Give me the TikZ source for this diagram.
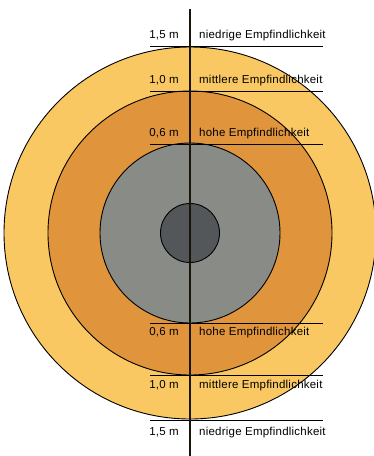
\documentclass[tikz,border=0pt]{standalone}
\usepackage{fontspec}
\setmainfont[LetterSpace=2]{Liberation Sans}
\usetikzlibrary{positioning}
\definecolor{ringLow}{RGB}{250,200,98}
\definecolor{ringMid}{RGB}{224,148,60}
\definecolor{ringHigh}{RGB}{137,139,134}
\definecolor{ringCore}{RGB}{84,87,90}
\definecolor{axisInk}{RGB}{26,21,10}

\begin{document}
\begin{tikzpicture}[x=1pt,y=-1pt]
\useasboundingbox (0,0) rectangle (374,456);
\tikzstyle{ring}=[circle, draw=black, line width=0.9pt, inner sep=0pt]
\tikzstyle{dist}=[anchor=base east, inner sep=0pt, font=\fontsize{11.5}{13}\selectfont]
\tikzstyle{sens}=[anchor=base west, inner sep=0pt, font=\fontsize{11.5}{13}\selectfont]
\tikzstyle{level}=[line width=1pt, black]
\node[ring, fill=ringLow, minimum size=372pt] (R3) at (190,233) {};
\node[ring, fill=ringMid, minimum size=284pt] (R2) at (190,233) {};
\node[ring, fill=ringHigh, minimum size=180pt] (R1) at (190,233) {};
\node[ring, fill=ringCore, minimum size=59pt] (R0) at (190,233) {};
% Abstandslinien mit Beschriftung
\foreach \i/\yy/\ty/\dst/\lbl in {
  1/46/38.3/{1,5 m}/{niedrige Empfindlichkeit},
  2/91/83.3/{1,0 m}/{mittlere Empfindlichkeit},
  3/144/136.7/{0,6 m}/{hohe Empfindlichkeit},
  4/323.5/335.7/{0,6 m}/{hohe Empfindlichkeit},
  5/375/388.3/{1,0 m}/{mittlere Empfindlichkeit},
  6/420/435.7/{1,5 m}/{niedrige Empfindlichkeit}}{
  \coordinate (A\i) at (150,\yy);
  \coordinate (B\i) at (323,\yy);
  \draw[level] (A\i) -- (B\i);
  \node[dist] (D\i) at (179,\ty) {\dst};
  \node[sens] (S\i) at (199,\ty) {\lbl};
}
% Achse
\coordinate (top) at (190,9);
\coordinate (bot) at (190,456);
\draw[line width=2pt, axisInk] (top) -- (bot);
\end{tikzpicture}
\end{document}
